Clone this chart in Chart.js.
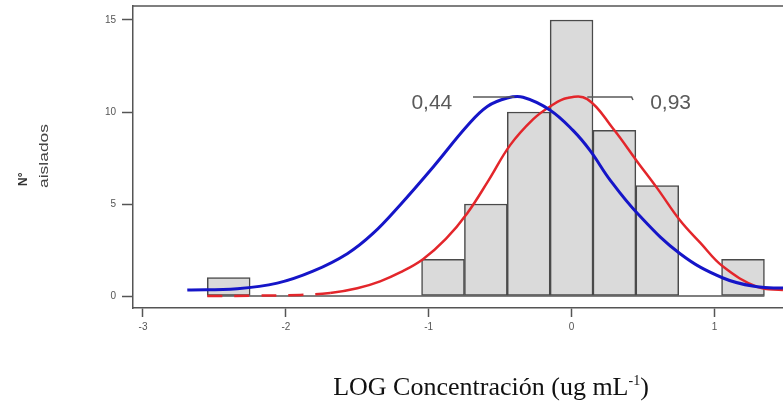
<!DOCTYPE html>
<html>
<head>
<meta charset="utf-8">
<script src="https://cdn.jsdelivr.net/npm/chart.js@4.4.1/dist/chart.umd.min.js"></script>
<style>
html,body{margin:0;padding:0;background:#fff;}
#wrap{width:783px;height:402px;position:relative;}
</style>
</head>
<body>
<div id="wrap"><canvas id="c" width="783" height="402"></canvas></div>
<script>
// ---- data ----
const binCenters = [-2.4, -0.9, -0.6, -0.3, 0, 0.3, 0.6, 0.9, 1.2];
const binCounts  = [1, 2, 5, 10, 15, 9, 6, 0, 2];
const baselineX  = [-2.55, 1.35];

const blueX = [-2.69, -2.34, -2.06, -1.81, -1.57, -1.39, -1.20, -0.97, -0.73, -0.59, -0.45, -0.34, -0.15, 0.01, 0.13, 0.27, 0.46, 0.76, 1.06, 1.30, 1.48];
const blueY = [0.33, 0.40, 0.70, 1.35, 2.30, 3.40, 4.95, 7.00, 9.25, 10.30, 10.76, 10.80, 10.10, 9.00, 7.90, 6.30, 4.50, 2.30, 0.98, 0.50, 0.43];

const redX = [-2.55, -2.2, -1.9, -1.69, -1.5, -1.34, -1.2, -1.04, -0.88, -0.73, -0.58, -0.43, -0.27, -0.15, -0.03, 0.11, 0.29, 0.46, 0.6, 0.76, 0.9, 1.06, 1.30, 1.48];
const redY = [0.0, 0.02, 0.06, 0.16, 0.42, 0.80, 1.28, 2.0, 3.1, 4.5, 6.3, 8.2, 9.6, 10.3, 10.76, 10.7, 9.1, 7.3, 5.85, 4.1, 2.9, 1.6, 0.5, 0.33];

const xTicks = [-3, -2, -1, 0, 1];
const yTicks = [0, 5, 10, 15];

const peakLabels = ['0,44', '0,93'];
const xTitle = 'LOG Concentración (ug mL';
const xTitleSup = '-1';
const yTitleLines = ['N°', 'aislados'];

// ---- build datasets ----
const zip = (xs, ys) => xs.map((x, i) => ({x, y: ys[i]}));

const ctx = document.getElementById('c').getContext('2d');

const annot = {
  id: 'annot',
  afterDatasetsDraw(chart) {
    const c = chart.ctx, xs = chart.scales.x, ys = chart.scales.y;
    c.save();
    c.strokeStyle = '#595959';
    c.lineWidth = 1.5;
    c.beginPath();
    c.moveTo(xs.getPixelForValue(-0.69), ys.getPixelForValue(10.82));
    c.lineTo(xs.getPixelForValue(-0.40), ys.getPixelForValue(10.82));
    c.stroke();
    c.beginPath();
    c.moveTo(xs.getPixelForValue(0.11), ys.getPixelForValue(10.82));
    c.lineTo(xs.getPixelForValue(0.42), ys.getPixelForValue(10.82));
    c.lineTo(xs.getPixelForValue(0.43), ys.getPixelForValue(10.65));
    c.stroke();
    c.fillStyle = '#5a5a5a';
    c.font = '21px Arial, "Liberation Sans", sans-serif';
    c.textBaseline = 'middle';
    c.textAlign = 'right';
    c.fillText(peakLabels[0], xs.getPixelForValue(-0.835), ys.getPixelForValue(10.5));
    c.textAlign = 'left';
    c.fillText(peakLabels[1], xs.getPixelForValue(0.55), ys.getPixelForValue(10.5));
    c.restore();
  },
  afterDraw(chart) {
    const c = chart.ctx, a = chart.chartArea;
    c.save();
    c.strokeStyle = '#555';
    c.lineWidth = 1.5;
    c.beginPath();
    c.moveTo(a.left, a.top);
    c.lineTo(a.right, a.top);
    c.stroke();
    c.fillStyle = '#111';
    c.textBaseline = 'alphabetic';
    c.textAlign = 'left';
    const mainFont = '26px "Liberation Serif", "Times New Roman", serif';
    const supFont = '14px "Liberation Serif", "Times New Roman", serif';
    c.font = mainFont;
    const w1 = c.measureText(xTitle).width;
    const w3 = c.measureText(')').width;
    c.font = supFont;
    const w2 = c.measureText(xTitleSup).width;
    const total = w1 + w2 + w3;
    const x0 = 491 - total / 2;
    const base = 395;
    c.font = mainFont;
    c.fillText(xTitle, x0, base);
    c.font = supFont;
    c.fillText(xTitleSup, x0 + w1, base - 10);
    c.font = mainFont;
    c.fillText(')', x0 + w1 + w2, base);
    c.save();
    c.translate(24, 186);
    c.rotate(-Math.PI / 2);
    c.fillStyle = '#333';
    c.font = 'bold 12px Arial, "Liberation Sans", sans-serif';
    c.textBaseline = 'middle';
    c.fillText(yTitleLines[0], 0, 0);
    c.restore();
    c.save();
    c.translate(44, 188);
    c.rotate(-Math.PI / 2);
    c.fillStyle = '#444';
    c.font = '13px Arial, "Liberation Sans", sans-serif';
    c.textBaseline = 'middle';
    const wa = c.measureText(yTitleLines[1]).width;
    c.scale(64 / wa, 1);
    c.fillText(yTitleLines[1], 0, 0);
    c.restore();
    c.restore();
  }
};

new Chart(ctx, {
  type: 'bar',
  data: {
    datasets: [
      {
        type: 'line',
        label: 'blue',
        data: zip(blueX, blueY),
        borderColor: '#1515c8',
        borderWidth: 3,
        pointRadius: 0,
        tension: 0.4,
        fill: false,
        order: 0
      },
      {
        type: 'line',
        label: 'red',
        data: zip(redX, redY),
        borderColor: '#e3262b',
        borderWidth: 2.5,
        pointRadius: 0,
        tension: 0.4,
        fill: false,
        segment: {
          borderDash: s => (s.p1.parsed.x <= -1.55 ? [15, 12] : undefined)
        },
        order: 1
      },
      {
        type: 'line',
        label: 'base',
        data: baselineX.map(x => ({x, y: 0})),
        borderColor: '#555',
        borderWidth: 1.5,
        pointRadius: 0,
        fill: false,
        order: 2
      },
      {
        type: 'bar',
        label: 'hist',
        data: zip(binCenters, binCounts),
        backgroundColor: '#dadada',
        borderColor: '#4a4a4a',
        borderWidth: 1.5,
        borderSkipped: false,
        barPercentage: 1,
        categoryPercentage: 1,
        order: 3
      }
    ]
  },
  options: {
    responsive: false,
    animation: false,
    layout: { padding: { top: 6, left: 0, right: 0, bottom: 0 } },
    plugins: { legend: { display: false }, tooltip: { enabled: false } },
    scales: {
      x: {
        type: 'linear',
        min: -3.07,
        max: 1.48,
        offset: false,
        afterBuildTicks: s => { s.ticks = xTicks.map(v => ({value: v})); },
        afterFit: s => { s.height = 94; s.paddingLeft = 0; s.paddingRight = 0; },
        grid: { display: true, drawOnChartArea: false, drawTicks: true, tickLength: 9, tickColor: '#555', tickWidth: 1.5, offset: false },
        border: { display: true, color: '#555', width: 1.5 },
        ticks: { color: '#555', font: { size: 10, family: 'Arial' }, padding: 4, maxRotation: 0, autoSkip: false }
      },
      y: {
        type: 'linear',
        min: -0.65,
        max: 15.76,
        afterBuildTicks: s => { s.ticks = yTicks.map(v => ({value: v})); },
        afterFit: s => { s.width = 133; s.paddingTop = 0; s.paddingBottom = 0; },
        grid: { display: true, drawOnChartArea: false, drawTicks: true, tickLength: 11, tickColor: '#555', tickWidth: 1.5 },
        border: { display: true, color: '#555', width: 1.5 },
        ticks: { color: '#555', font: { size: 10, family: 'Arial' }, padding: 6 }
      }
    }
  },
  plugins: [annot]
});
</script>
</body>
</html>
